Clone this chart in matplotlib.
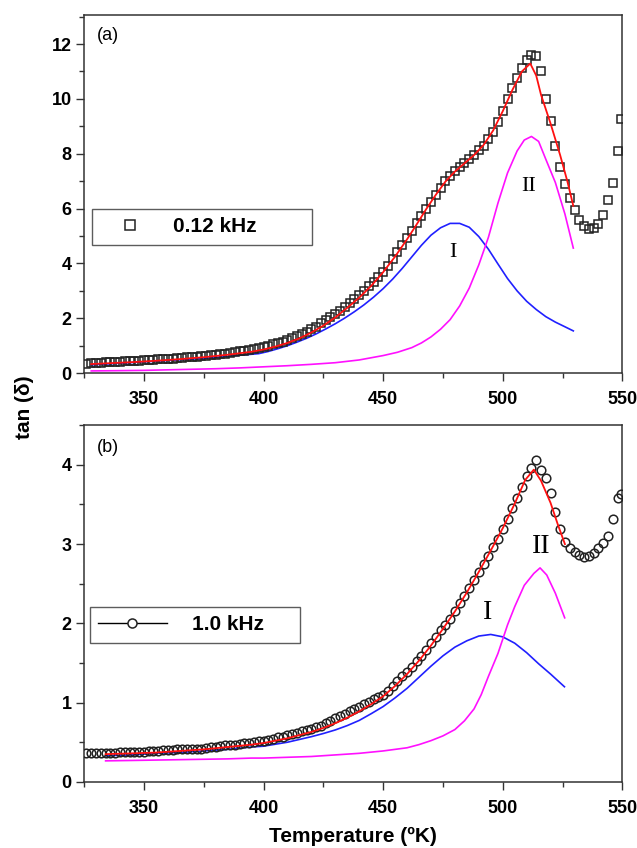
import numpy as np
import matplotlib
matplotlib.use("Agg")
import matplotlib.pyplot as plt
from matplotlib.lines import Line2D
from matplotlib.ticker import MultipleLocator

plt.rcParams['font.family'] = ['Liberation Sans', 'DejaVu Sans']

# ---------------- Panel (a): 0.12 kHz ----------------
temp_a = list(range(326, 549, 2)) + [549.5]
tan_a = [0.35, 0.36, 0.37, 0.38, 0.39, 0.40, 0.41, 0.42, 0.43, 0.44,
         0.45, 0.46, 0.47, 0.48, 0.49, 0.50, 0.51, 0.52, 0.53, 0.55,
         0.56, 0.58, 0.59, 0.60, 0.61, 0.63, 0.65, 0.67, 0.69, 0.71,
         0.74, 0.76, 0.79, 0.82, 0.85, 0.88, 0.92, 0.96, 1.00, 1.05,
         1.10, 1.15, 1.21, 1.27, 1.34, 1.42, 1.50, 1.60, 1.70, 1.81,
         1.93, 2.04, 2.15, 2.27, 2.40, 2.54, 2.69, 2.85, 3.00, 3.16,
         3.33, 3.51, 3.70, 3.92, 4.16, 4.42, 4.68, 4.94, 5.20, 5.46,
         5.72, 5.98, 6.24, 6.50, 6.76, 7.00, 7.20, 7.38, 7.53, 7.67,
         7.81, 7.96, 8.12, 8.30, 8.52, 8.80, 9.15, 9.55, 9.98, 10.38,
         10.78, 11.12, 11.42, 11.60, 11.55, 11.00, 10.00, 9.20, 8.30, 7.50,
         6.90, 6.40, 5.95, 5.60, 5.35, 5.25, 5.28, 5.45, 5.75, 6.30,
         6.95, 8.10, 9.25]

fit_temp_a = [328, 335, 345, 355, 365, 375, 385, 395, 400, 405, 410, 415, 420,
              425, 430, 435, 440, 445, 450, 455, 460, 464, 468, 472, 476, 480,
              484, 488, 492, 496, 500, 504, 508, 511.5, 514, 516, 520, 524,
              527, 529.5]
fit_a = [0.33, 0.36, 0.40, 0.45, 0.51, 0.58, 0.67, 0.78, 0.86, 0.97, 1.10,
         1.27, 1.48, 1.73, 2.03, 2.38, 2.75, 3.18, 3.68, 4.25, 4.88, 5.42,
         5.98, 6.50, 6.98, 7.35, 7.65, 7.95, 8.32, 8.85, 9.55, 10.32, 11.00,
         11.29, 10.85, 10.15, 9.10, 7.95, 7.00, 6.10]

peak1_temp_a = [328, 330, 334, 338, 342, 346, 350, 354, 358, 362, 366, 370,
                374, 378, 382, 386, 390, 394, 398, 402, 406, 410, 414, 418,
                422, 426, 430, 434, 438, 442, 446, 450, 454, 458, 462, 466,
                470, 474, 478, 482, 486, 490, 494, 498, 502, 506, 510, 514,
                518, 522, 526, 529.5]
peak1_a = [0.30, 0.31, 0.33, 0.35, 0.37, 0.39, 0.41, 0.43, 0.45, 0.47, 0.49,
           0.51, 0.53, 0.56, 0.59, 0.62, 0.65, 0.68, 0.71, 0.79, 0.89, 1.00,
           1.13, 1.27, 1.43, 1.61, 1.80, 2.01, 2.24, 2.49, 2.77, 3.08, 3.43,
           3.82, 4.24, 4.66, 5.03, 5.30, 5.46, 5.46, 5.32, 4.98, 4.52, 3.98,
           3.45, 3.00, 2.62, 2.32, 2.06, 1.86, 1.69, 1.54]

peak2_temp_a = [328, 340, 350, 360, 370, 380, 390, 400, 410, 420, 430, 440,
                450, 456, 462, 466, 470, 474, 478, 482, 486, 490, 494, 498,
                502, 506, 509, 512, 515, 518, 522, 526, 529.5]
peak2_a = [0.08, 0.09, 0.10, 0.12, 0.14, 0.16, 0.19, 0.23, 0.27, 0.32, 0.38,
           0.48, 0.64, 0.76, 0.93, 1.10, 1.32, 1.60, 1.95, 2.45, 3.10, 3.95,
           4.95, 6.20, 7.30, 8.10, 8.50, 8.63, 8.45, 7.80, 6.95, 5.80, 4.56]

# ---------------- Panel (b): 1.0 kHz ----------------
temp_b = list(range(326, 549, 2)) + [549.3]
tan_b = [0.37, 0.37, 0.37, 0.37, 0.37, 0.37, 0.37, 0.38, 0.38, 0.38,
         0.38, 0.38, 0.38, 0.39, 0.39, 0.39, 0.40, 0.40, 0.40, 0.41,
         0.41, 0.41, 0.42, 0.42, 0.42, 0.43, 0.44, 0.44, 0.45, 0.46,
         0.46, 0.47, 0.48, 0.49, 0.49, 0.50, 0.51, 0.52, 0.53, 0.54,
         0.56, 0.57, 0.59, 0.60, 0.62, 0.64, 0.65, 0.67, 0.69, 0.71,
         0.74, 0.77, 0.80, 0.83, 0.86, 0.89, 0.92, 0.95, 0.98, 1.01,
         1.04, 1.07, 1.10, 1.15, 1.21, 1.27, 1.33, 1.39, 1.45, 1.52,
         1.59, 1.67, 1.75, 1.83, 1.91, 1.98, 2.06, 2.16, 2.26, 2.35,
         2.45, 2.55, 2.65, 2.75, 2.85, 2.96, 3.06, 3.19, 3.32, 3.45,
         3.58, 3.72, 3.86, 3.96, 4.06, 3.94, 3.83, 3.64, 3.40, 3.19,
         3.03, 2.95, 2.90, 2.86, 2.84, 2.85, 2.89, 2.95, 3.01, 3.10,
         3.32, 3.58, 3.63]

fit_temp_b = [334, 345, 355, 365, 375, 385, 395, 400, 410, 415, 420, 425,
              430, 435, 440, 445, 450, 455, 460, 465, 470, 475, 480, 485,
              490, 495, 500, 505, 509.4, 513, 516, 520, 523, 526]
fit_b = [0.35, 0.36, 0.37, 0.39, 0.41, 0.44, 0.47, 0.49, 0.55, 0.59, 0.63,
         0.68, 0.74, 0.81, 0.89, 0.98, 1.08, 1.21, 1.36, 1.53, 1.72, 1.93,
         2.15, 2.39, 2.65, 2.92, 3.20, 3.51, 3.81, 3.94, 3.80, 3.52, 3.25,
         3.00]

peak1_temp_b = [334, 345, 355, 365, 375, 385, 395, 400, 410, 415, 420, 425,
                430, 435, 440, 445, 450, 455, 460, 465, 470, 475, 480, 485,
                490, 495, 500, 505, 510, 515, 520, 525.8]
peak1_b = [0.33, 0.34, 0.36, 0.37, 0.39, 0.41, 0.44, 0.45, 0.50, 0.535,
           0.57, 0.61, 0.655, 0.71, 0.775, 0.86, 0.95, 1.06, 1.18, 1.32,
           1.46, 1.59, 1.70, 1.78, 1.84, 1.86, 1.83, 1.75, 1.63, 1.49, 1.36,
           1.20]

peak2_temp_b = [334, 345, 355, 365, 375, 385, 395, 400, 410, 420, 425, 430,
                440, 450, 460, 465, 470, 475, 480, 484, 488, 491, 494, 498,
                502, 505, 509, 513, 515.6, 518.4, 522, 525.9]
peak2_b = [0.265, 0.27, 0.275, 0.28, 0.285, 0.29, 0.30, 0.30, 0.31, 0.32,
           0.33, 0.34, 0.36, 0.39, 0.43, 0.47, 0.52, 0.58, 0.66, 0.77, 0.92,
           1.10, 1.33, 1.62, 1.98, 2.21, 2.48, 2.63, 2.70, 2.61, 2.38, 2.07]

x_ticks = [350, 400, 450, 500, 550]

# ---------------- Figure ----------------
fig = plt.figure(figsize=(6.37, 8.48), dpi=100)
ax_a = fig.add_axes([0.132, 0.560, 0.845, 0.422])
ax_b = fig.add_axes([0.132, 0.078, 0.845, 0.421])

edge = '#222222'
spine_col = '#333333'


def style_axes(ax, ymax, ymajor, yminor):
    ax.set_xlim(325, 550)
    ax.set_ylim(0, ymax)
    ax.set_xticks(x_ticks)
    ax.xaxis.set_minor_locator(MultipleLocator(25))
    ax.yaxis.set_major_locator(MultipleLocator(ymajor))
    ax.yaxis.set_minor_locator(MultipleLocator(yminor))
    ax.tick_params(axis='both', which='major', direction='out', length=6,
                   width=1, color=spine_col, labelsize=13)
    ax.tick_params(axis='both', which='minor', direction='out', length=3.5,
                   width=1, color=spine_col)
    ax.tick_params(axis='x', which='major', pad=7)
    ax.tick_params(axis='y', which='major', pad=3)
    ax.tick_params(top=False, right=False, which='both')
    for lab in ax.get_xticklabels() + ax.get_yticklabels():
        lab.set_fontweight('bold')
    for sp in ax.spines.values():
        sp.set_color(spine_col)
        sp.set_linewidth(1.1)


# Panel (a)
ax_a.plot(temp_a, tan_a, ls='none', marker='s', ms=6.0, mfc='none',
          mec=edge, mew=1.1, zorder=3)
ax_a.plot(fit_temp_a, fit_a, color='#ff1010', lw=1.3, zorder=4)
ax_a.plot(peak1_temp_a, peak1_a, color='#2020ff', lw=1.2, zorder=2)
ax_a.plot(peak2_temp_a, peak2_a, color='#ff10ff', lw=1.2, zorder=2)
style_axes(ax_a, 13.05, 2, 1)
ax_a.text(0.023, 0.968, '(a)', transform=ax_a.transAxes, fontsize=13,
          ha='left', va='top')
ax_a.text(479, 4.41, 'I', family='Liberation Serif', fontsize=16,
          ha='center', va='center')
ax_a.text(511, 6.82, 'II', family='Liberation Serif', fontsize=16,
          ha='center', va='center')
h_a = Line2D([], [], ls='none', marker='s', ms=6.5, mfc='none', mec=edge, mew=1.1)
leg_a = ax_a.legend([h_a], ['0.12 kHz'], loc='center left',
                    bbox_to_anchor=(0.014, 0.352, 0.409, 0.114), mode='expand',
                    prop={'weight': 'bold', 'size': 15}, frameon=True,
                    fancybox=False, borderpad=0.4, handlelength=2.9,
                    handletextpad=0.6, numpoints=1, borderaxespad=0)
leg_a.get_frame().set_edgecolor(spine_col)
leg_a.get_frame().set_linewidth(1.0)

# Panel (b)
ax_b.plot(temp_b, tan_b, ls='none', marker='o', ms=6.2, mfc='none',
          mec=edge, mew=1.1, zorder=3)
ax_b.plot(fit_temp_b, fit_b, color='#ff1010', lw=1.3, zorder=4)
ax_b.plot(peak1_temp_b, peak1_b, color='#2020ff', lw=1.2, zorder=2)
ax_b.plot(peak2_temp_b, peak2_b, color='#ff10ff', lw=1.2, zorder=2)
style_axes(ax_b, 4.505, 1, 0.5)
ax_b.text(0.023, 0.96, '(b)', transform=ax_b.transAxes, fontsize=13,
          ha='left', va='top')
ax_b.text(493.7, 2.14, 'I', family='Liberation Serif', fontsize=20,
          ha='center', va='center')
ax_b.text(516, 2.97, 'II', family='Liberation Serif', fontsize=20,
          ha='center', va='center')
h_b = Line2D([], [], ls='-', color='black', lw=1.0, marker='o', ms=6.5,
             mfc='white', mec=edge, mew=1.1)
leg_b = ax_b.legend([h_b], ['1.0 kHz'], loc='center left',
                    bbox_to_anchor=(0.0104, 0.381, 0.391, 0.118), mode='expand',
                    prop={'weight': 'bold', 'size': 15}, frameon=True,
                    fancybox=False, borderpad=0.4, handlelength=3.3,
                    handletextpad=1.2, numpoints=1, borderaxespad=0)
leg_b.get_frame().set_edgecolor(spine_col)
leg_b.get_frame().set_linewidth(1.0)

ax_b.set_xlabel('Temperature (ºK)', fontsize=15, fontweight='bold', labelpad=7)
fig.text(25 / 637, 1 - 407 / 848, 'tan (δ)', rotation=90, fontsize=15,
         fontweight='bold', ha='center', va='center')

fig.savefig('out.png', dpi=100, facecolor='white')
